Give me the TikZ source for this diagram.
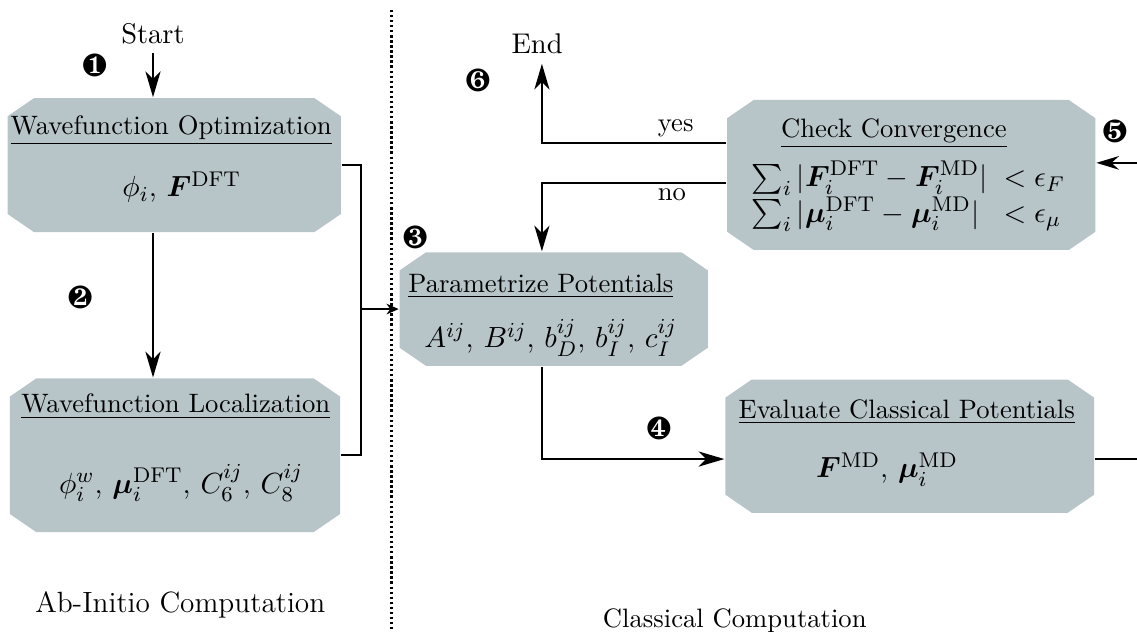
\documentclass[tikz,border=0pt]{standalone}
\usepackage{amsmath,amssymb}
\usepackage{bm}
\usepackage{pifont}
\usetikzlibrary{positioning,arrows.meta}
\definecolor{boxgray}{RGB}{183,196,200}

\begin{document}
\begin{tikzpicture}[>={Stealth[length=3.4mm,width=2mm,inset=1mm]},line width=0.7pt,
  block/.style={rectangle,inner sep=0pt,
    path picture={\fill[boxgray]
      ([xshift=3.5mm]path picture bounding box.north west) --
      ([xshift=-3.5mm]path picture bounding box.north east) --
      ([yshift=-2.4mm]path picture bounding box.north east) --
      ([yshift=2.4mm]path picture bounding box.south east) --
      ([xshift=-3.5mm]path picture bounding box.south east) --
      ([xshift=3.5mm]path picture bounding box.south west) --
      ([yshift=2.4mm]path picture bounding box.south west) --
      ([yshift=-2.4mm]path picture bounding box.north west) -- cycle;}},
  hdr/.style={anchor=base},
  mth/.style={anchor=base,font=\fontsize{11.2}{13}\selectfont},
  stepno/.style={font=\large},
  term/.style={font=\fontsize{10.7}{12}\selectfont}]
  \useasboundingbox (0,0) rectangle (15.01,8.33);

  % ab-initio side
  \node[block,minimum width=4.40cm,minimum height=1.77cm] (opt) at (2.30,6.15) {};
  \node[hdr] (optT) at (2.26,6.55) {\underline{Wavefunction Optimization}};
  \node[mth] (optM) at (2.40,5.73) {$\phi_i$, $\bm{F}^{\mathrm{DFT}}$};

  \node[block,minimum width=4.36cm,minimum height=2.03cm] (loc) at (2.31,2.32) {};
  \node[hdr] (locT) at (2.32,2.88) {\underline{Wavefunction Localization}};
  \node[mth] (locM) at (2.39,1.82) {$\phi_i^w$, $\bm{\mu}_i^{\mathrm{DFT}}$, $C_6^{ij}$, $C_8^{ij}$};

  % classical side
  \node[block,minimum width=4.07cm,minimum height=1.50cm] (par) at (7.31,4.25) {};
  \node[hdr] (parT) at (7.14,4.47) {\underline{Parametrize Potentials}};
  \node[mth] (parM) at (7.27,3.74) {$A^{ij}$, $B^{ij}$, $b_D^{ij}$, $b_I^{ij}$, $c_I^{ij}$};

  \node[block,minimum width=4.86cm,minimum height=1.98cm] (chk) at (12.03,6.02) {};
  \node[hdr] (chkT) at (11.80,6.52) {\underline{Check Convergence}};
  \node[font=\fontsize{11.2}{13}\selectfont] (chkM) at (11.99,5.73) {$\begin{array}{@{}l@{\;}l@{}}
      \sum_i |\bm{F}_i^{\mathrm{DFT}}-\bm{F}_i^{\mathrm{MD}}| & {}<\epsilon_F\\
      \sum_i |\bm{\mu}_i^{\mathrm{DFT}}-\bm{\mu}_i^{\mathrm{MD}}| & {}<\epsilon_\mu
    \end{array}$};

  \node[block,minimum width=4.87cm,minimum height=1.76cm] (ev) at (12.01,2.44) {};
  \node[hdr] (evT) at (11.97,2.81) {\underline{Evaluate Classical Potentials}};
  \node[mth] (evM) at (11.71,2.02) {$\bm{F}^{\mathrm{MD}}$, $\bm{\mu}_i^{\mathrm{MD}}$};

  % start / end
  \node[term] (start) at (2.02,7.89) {Start};
  \node[term] (endn) at (7.09,7.75) {End};

  % step numbers
  \node[stepno] (n1) at (1.25,7.47) {\ding{182}};
  \node[stepno] (n2) at (1.06,4.41) {\ding{183}};
  \node[stepno] (n3) at (5.48,5.20) {\ding{184}};
  \node[stepno] (n4) at (8.70,2.67) {\ding{185}};
  \node[stepno] (n5) at (14.72,6.60) {\ding{186}};
  \node[stepno] (n6) at (6.31,7.27) {\ding{187}};

  % divider and captions
  \coordinate (divtop) at (5.17,8.20);
  \coordinate (divbot) at (5.17,0);
  \draw[densely dotted,line width=0.9pt] (divtop) -- (divbot);
  \node[anchor=base,font=\fontsize{11}{13}\selectfont] (abi) at (2.38,0.25) {Ab-Initio Computation};
  \node[anchor=base] (cls) at (9.70,0.04) {Classical Computation};

  % connectors
  \coordinate (brk) at (4.765,0);
  \coordinate (col) at (7.154,0);
  \coordinate (rim) at (15.01,0);
  \coordinate (yesout) at ([yshift=0.42cm]chk.west);
  \coordinate (noout) at ([yshift=-0.11cm]chk.west);
  \coordinate (chkin) at ([yshift=0.16cm]chk.east);
  \coordinate (evin) at ([yshift=-0.17cm]ev.west);
  \coordinate (evout) at ([yshift=-0.17cm]ev.east);

  \draw[->] (start) -- (start.south |- opt.north);
  \draw[->] (opt.south -| start) -- (loc.north -| start);
  \draw (opt.east) -- (opt.east -| brk) -- (loc.east -| brk) -- (loc.east);
  \draw[-{Stealth[length=1.6mm,width=1.4mm,inset=0.5mm]}] (brk |- par.west) -- (par.west);
  \draw[->] (col |- par.south) |- (evin);
  \draw (evout) -- (evout -| rim);
  \draw[-{Stealth[length=3mm,width=1.8mm,inset=1mm]}] (chkin -| rim) -- (chkin);
  \draw[->] (yesout) -- (yesout -| col) -- (col |- endn.south);
  \draw[->] (noout) -- (noout -| col) -- (col |- par.north);
  \node (yes) at (8.92,6.64) {yes};
  \node (no) at (8.87,5.76) {no};
\end{tikzpicture}
\end{document}
